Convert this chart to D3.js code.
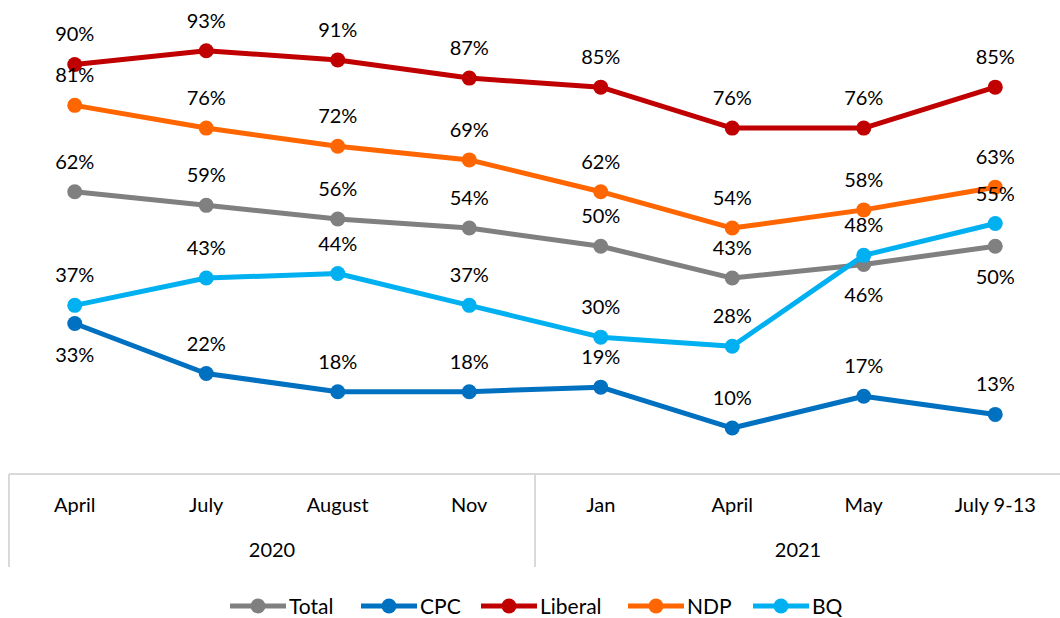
<!DOCTYPE html>
<html>
<meta charset="utf-8">
<style>
body { margin: 0; background: #fff; font-family: 'Lato', 'Open Sans', sans-serif; }
.lbl { font-size: 20px; fill: #000; text-anchor: middle; }
</style>
<body>
<script src="https://cdn.jsdelivr.net/npm/d3@7"></script>
<script>
var w = 1060, h = 618;

// data
var months = ["April", "July", "August", "Nov", "Jan", "April", "May", "July 9-13"];
var years = [{ name: "2020", from: 0, to: 3 }, { name: "2021", from: 4, to: 7 }];
var seriesNames = ["Total", "CPC", "Liberal", "NDP", "BQ"];
var total   = [62, 59, 56, 54, 50, 43, 46, 50];
var cpc     = [33, 22, 18, 18, 19, 10, 17, 13];
var liberal = [90, 93, 91, 87, 85, 76, 76, 85];
var ndp     = [81, 76, 72, 69, 62, 54, 58, 63];
var bq      = [37, 43, 44, 37, 30, 28, 48, 55];
// which labels sit below the point
var totalBelow = [false, false, false, false, false, false, true, true];
var cpcBelow   = [true, false, false, false, false, false, false, false];

var colors = ["#808080", "#0070c0", "#c00000", "#ff6600", "#00b0f0"];
var series = [
  { name: "Total", values: total, below: totalBelow },
  { name: "CPC", values: cpc, below: cpcBelow },
  { name: "Liberal", values: liberal },
  { name: "NDP", values: ndp },
  { name: "BQ", values: bq }
];

var x = d3.scalePoint()
    .domain(d3.range(months.length))
    .range([9, 1061])
    .padding(0.5);
var step = x.step();

var y = d3.scaleLinear()
    .domain([0, 100])
    .range([473.5, 19]);

var color = d3.scaleOrdinal().domain(seriesNames).range(colors);

var svg = d3.select("body").append("svg")
    .attr("width", w)
    .attr("height", h);

// category axis box
var axisY = 474;
svg.append("line")
    .attr("x1", 9).attr("x2", w)
    .attr("y1", axisY).attr("y2", axisY)
    .attr("stroke", "#d9d9d9").attr("stroke-width", 2);

var bounds = [x(0) - step / 2].concat(years.map(function(d) { return x(d.to) + step / 2; }));
bounds.forEach(function(b) {
  svg.append("line")
      .attr("x1", b).attr("x2", b)
      .attr("y1", axisY).attr("y2", 567)
      .attr("stroke", "#d9d9d9").attr("stroke-width", 2);
});

svg.selectAll(".month")
    .data(months)
    .enter().append("text")
    .attr("class", "lbl")
    .attr("x", function(d, i) { return x(i); })
    .attr("y", 512)
    .text(function(d) { return d; });

svg.selectAll(".year")
    .data(years)
    .enter().append("text")
    .attr("class", "lbl")
    .attr("x", function(d) { return (x(d.from) - step / 2 + x(d.to) + step / 2) / 2; })
    .attr("y", 557)
    .text(function(d) { return d.name; });

var line = d3.line()
    .x(function(d, i) { return x(i); })
    .y(function(d) { return y(d); });

series.forEach(function(s) {
  var g = svg.append("g");
  g.append("path")
      .datum(s.values)
      .attr("d", line)
      .attr("fill", "none")
      .attr("stroke", color(s.name))
      .attr("stroke-width", 5)
      .attr("stroke-linejoin", "round");
  g.selectAll("circle")
      .data(s.values)
      .enter().append("circle")
      .attr("cx", function(d, i) { return x(i); })
      .attr("cy", function(d) { return y(d); })
      .attr("r", 7.5)
      .attr("fill", color(s.name));
});

// data labels
series.forEach(function(s) {
  svg.append("g").selectAll("text")
      .data(s.values)
      .enter().append("text")
      .attr("class", "lbl")
      .attr("x", function(d, i) { return x(i); })
      .attr("y", function(d, i) {
        var below = s.below && s.below[i];
        return below ? y(d) + 38 : y(d) - 23;
      })
      .text(function(d) { return d + "%"; });
});

// legend
var legendX = [230, 361, 481, 628, 753];
var legend = svg.selectAll(".legend")
    .data(seriesNames)
    .enter().append("g")
    .attr("transform", function(d, i) { return "translate(" + legendX[i] + ",606)"; });

legend.append("line")
    .attr("x1", 0).attr("x2", 56)
    .attr("stroke", color)
    .attr("stroke-width", 5);
legend.append("circle")
    .attr("cx", 28)
    .attr("r", 7.5)
    .attr("fill", color);
legend.append("text")
    .attr("x", 59)
    .attr("y", 7.5)
    .style("font-size", "21px")
    .text(function(d) { return d; });
</script>
</body>
</html>
